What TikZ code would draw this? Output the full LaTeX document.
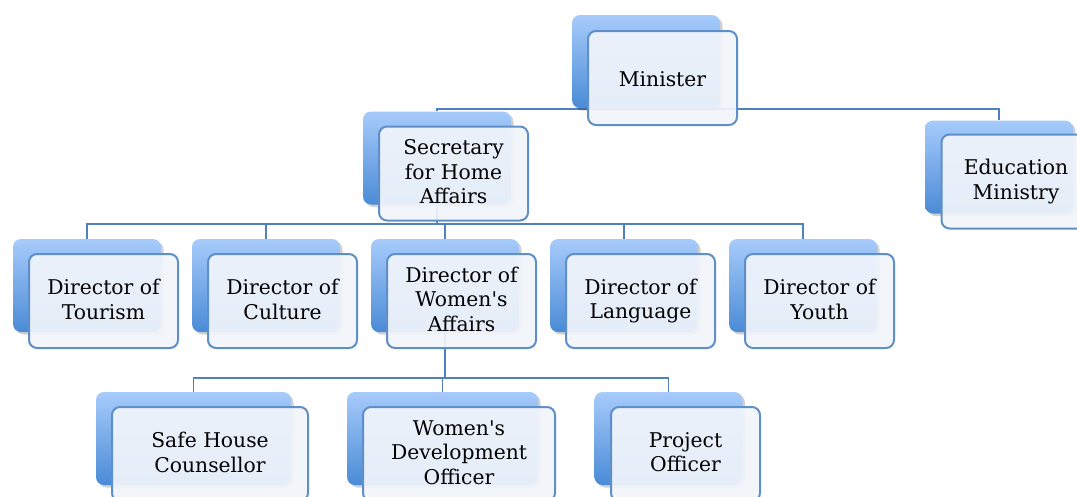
\documentclass[tikz,border=0pt]{standalone}
\usepackage{fontspec}
\setmainfont{DejaVu Serif}
\usetikzlibrary{shadows}
\definecolor{backtop}{HTML}{A7CBFB}
\definecolor{backbot}{HTML}{4A8BD6}
\definecolor{frontfill}{HTML}{F1F5FB}
\definecolor{frontline}{HTML}{5F8FC8}
\definecolor{connline}{HTML}{4F81BD}
\pgfdeclarelayer{bg}
\pgfsetlayers{bg,main}
\newcommand{\apos}{\textquotesingle}
\newcommand{\balrule}{\rule[-3.5pt]{0pt}{23.5pt}}
\tikzset{
  backbox/.style={rectangle, rounded corners=8pt, inner sep=0pt,
    minimum width=#1, minimum height=93pt,
    top color=backtop, bottom color=backbot, draw=none,
    drop shadow={shadow xshift=2.5pt, shadow yshift=-2.5pt, opacity=0.18, fill=black}},
  backbox/.default=148pt,
  frontbox/.style={rectangle, rounded corners=8pt, inner sep=0pt,
    minimum width=#1, minimum height=94pt,
    fill=frontfill, fill opacity=0.93, text opacity=1, draw=frontline, line width=2pt,
    align=center, font=\fontsize{20.3}{24.5}\selectfont,
    execute at begin node=\balrule, execute at end node=\balrule},
  frontbox/.default=149pt,
  conn/.style={draw=connline, line width=1.6pt}
}
\begin{document}
\begin{tikzpicture}[x=1pt,y=-1pt]
\useasboundingbox (0,0) rectangle (1077,496);
% top
\node[backbox] (mb) at (646,61.5) {};
\node[frontbox] (mf) at (662.5,78) {Minister};
\node[backbox] (sb) at (437,158) {};
\node[frontbox] (sf) at (453.5,173.5) {Secretary\\for Home\\Affairs};
\node[backbox] (eb) at (999,167) {};
\node[frontbox] (ef) at (1016,181.5) {Education\\Ministry};
% directors
\node[backbox] (d1b) at (87,285.5) {};
\node[frontbox] (d1f) at (103.5,301) {Director of\\Tourism};
\node[backbox] (d2b) at (266,285.5) {};
\node[frontbox] (d2f) at (282.5,301) {Director of\\Culture};
\node[backbox] (d3b) at (445,285.5) {};
\node[frontbox] (d3f) at (461.5,301) {Director of\\Women\apos s\\Affairs};
\node[backbox] (d4b) at (624,285.5) {};
\node[frontbox] (d4f) at (640.5,301) {Director of\\Language};
\node[backbox] (d5b) at (803,285.5) {};
\node[frontbox] (d5f) at (819.5,301) {Director of\\Youth};
% bottom
\node[backbox=195pt] (b1b) at (193.5,438.5) {};
\node[frontbox=196pt] (b1f) at (210,454) {Safe House\\Counsellor};
\node[backbox=191pt] (b2b) at (442.5,438.5) {};
\node[frontbox=192pt] (b2f) at (459,454) {Women\apos s\\Development\\Officer};
\node[backbox] (b3b) at (668.5,438.5) {};
\node[frontbox] (b3f) at (685.5,454) {Project\\Officer};
% connectors
\coordinate (busA) at (646,109);
\coordinate (busB) at (437,224);
\coordinate (busC) at (445,378);
\begin{pgfonlayer}{bg}
\draw[conn] (mb.south) -- (busA);
\draw[conn] (sb.north) |- (busA) -| (eb.north);
\draw[conn] (sb.south) -- (busB);
\draw[conn] (d1b.north) |- (busB) -| (d5b.north);
\draw[conn] (d2b.north) -- (d2b.north |- busB);
\draw[conn] (d3b.north) -- (d3b.north |- busB);
\draw[conn] (d4b.north) -- (d4b.north |- busB);
\draw[conn] (d3b.south) -- (busC);
\draw[conn] (b1b.north) |- (busC) -| (b3b.north);
\draw[conn] (b2b.north) -- (b2b.north |- busC);
\end{pgfonlayer}
\end{tikzpicture}
\end{document}
